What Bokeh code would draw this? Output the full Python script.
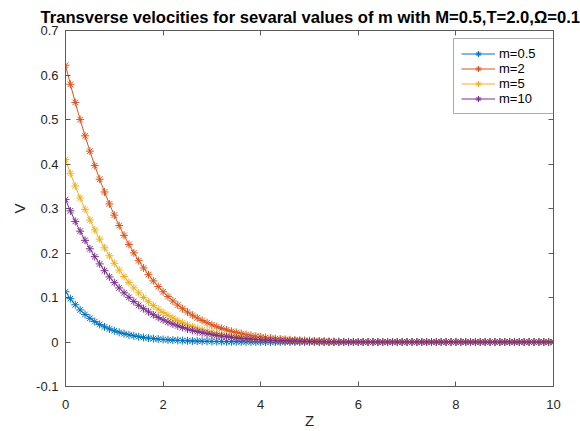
from bokeh.plotting import figure
from bokeh.models import LinearAxis, FixedTicker, Legend, LegendItem, Range1d
from bokeh.embed import file_html
from bokeh.resources import INLINE

# ---------------- data ----------------
Z = [0.0, 0.1, 0.2, 0.3, 0.4, 0.5, 0.6, 0.7, 0.8, 0.9,
     1.0, 1.1, 1.2, 1.3, 1.4, 1.5, 1.6, 1.7, 1.8, 1.9,
     2.0, 2.1, 2.2, 2.3, 2.4, 2.5, 2.6, 2.7, 2.8, 2.9,
     3.0, 3.1, 3.2, 3.3, 3.4, 3.5, 3.6, 3.7, 3.8, 3.9,
     4.0, 4.1, 4.2, 4.3, 4.4, 4.5, 4.6, 4.7, 4.8, 4.9,
     5.0, 5.1, 5.2, 5.3, 5.4, 5.5, 5.6, 5.7, 5.8, 5.9,
     6.0, 6.1, 6.2, 6.3, 6.4, 6.5, 6.6, 6.7, 6.8, 6.9,
     7.0, 7.1, 7.2, 7.3, 7.4, 7.5, 7.6, 7.7, 7.8, 7.9,
     8.0, 8.1, 8.2, 8.3, 8.4, 8.5, 8.6, 8.7, 8.8, 8.9,
     9.0, 9.1, 9.2, 9.3, 9.4, 9.5, 9.6, 9.7, 9.8, 9.9,
     10.0]

V_m05 = [0.1130, 0.0973, 0.0837, 0.0720, 0.0620, 0.0534, 0.0459, 0.0395, 0.0340, 0.0293,
         0.0252, 0.0217, 0.0187, 0.0161, 0.0138, 0.0119, 0.0103, 0.0088, 0.0076, 0.0065,
         0.0056, 0.0048, 0.0042, 0.0036, 0.0031, 0.0027, 0.0023, 0.0020, 0.0017, 0.0015,
         0.0013, 0.0011, 0.0009, 0.0008, 0.0007, 0.0006, 0.0005, 0.0004, 0.0003, 0.0002,
         0.0001, 0.0, 0.0, 0.0, 0.0, 0.0, 0.0, 0.0, 0.0, 0.0,
         0.0, 0.0, 0.0, 0.0, 0.0, 0.0, 0.0, 0.0, 0.0, 0.0,
         0.0, 0.0, 0.0, 0.0, 0.0, 0.0, 0.0, 0.0, 0.0, 0.0,
         0.0, 0.0, 0.0, 0.0, 0.0, 0.0, 0.0, 0.0, 0.0, 0.0,
         0.0, 0.0, 0.0, 0.0, 0.0, 0.0, 0.0, 0.0, 0.0, 0.0,
         0.0, 0.0, 0.0, 0.0, 0.0, 0.0, 0.0, 0.0, 0.0, 0.0,
         0.0]

V_m2 = [0.6220, 0.5791, 0.5384, 0.4998, 0.4633, 0.4289, 0.3964, 0.3658, 0.3371, 0.3102,
        0.2851, 0.2616, 0.2396, 0.2192, 0.2003, 0.1827, 0.1664, 0.1513, 0.1374, 0.1246,
        0.1129, 0.1020, 0.0921, 0.0831, 0.0748, 0.0672, 0.0603, 0.0541, 0.0484, 0.0433,
        0.0386, 0.0344, 0.0306, 0.0272, 0.0241, 0.0214, 0.0189, 0.0167, 0.0147, 0.0130,
        0.0114, 0.0100, 0.0088, 0.0077, 0.0067, 0.0059, 0.0051, 0.0045, 0.0039, 0.0034,
        0.0029, 0.0024, 0.0019, 0.0015, 0.0011, 0.0008, 0.0005, 0.0003, 0.0001, 0.0,
        0.0, 0.0, 0.0, 0.0, 0.0, 0.0, 0.0, 0.0, 0.0, 0.0,
        0.0, 0.0, 0.0, 0.0, 0.0, 0.0, 0.0, 0.0, 0.0, 0.0,
        0.0, 0.0, 0.0, 0.0, 0.0, 0.0, 0.0, 0.0, 0.0, 0.0,
        0.0, 0.0, 0.0, 0.0, 0.0, 0.0, 0.0, 0.0, 0.0, 0.0,
        0.0]

V_m5 = [0.4100, 0.3793, 0.3505, 0.3234, 0.2980, 0.2741, 0.2519, 0.2311, 0.2117, 0.1937,
        0.1770, 0.1615, 0.1471, 0.1339, 0.1216, 0.1104, 0.1000, 0.0905, 0.0817, 0.0737,
        0.0664, 0.0598, 0.0537, 0.0482, 0.0432, 0.0386, 0.0345, 0.0308, 0.0274, 0.0244,
        0.0217, 0.0192, 0.0170, 0.0151, 0.0133, 0.0117, 0.0104, 0.0091, 0.0080, 0.0070,
        0.0061, 0.0054, 0.0047, 0.0041, 0.0036, 0.0031, 0.0027, 0.0023, 0.0020, 0.0018,
        0.0015, 0.0012, 0.0009, 0.0007, 0.0005, 0.0003, 0.0001, 0.0, 0.0, 0.0,
        0.0, 0.0, 0.0, 0.0, 0.0, 0.0, 0.0, 0.0, 0.0, 0.0,
        0.0, 0.0, 0.0, 0.0, 0.0, 0.0, 0.0, 0.0, 0.0, 0.0,
        0.0, 0.0, 0.0, 0.0, 0.0, 0.0, 0.0, 0.0, 0.0, 0.0,
        0.0, 0.0, 0.0, 0.0, 0.0, 0.0, 0.0, 0.0, 0.0, 0.0,
        0.0]

V_m10 = [0.3200, 0.2946, 0.2710, 0.2490, 0.2285, 0.2095, 0.1918, 0.1755, 0.1603, 0.1463,
         0.1334, 0.1215, 0.1105, 0.1004, 0.0912, 0.0826, 0.0749, 0.0677, 0.0612, 0.0552,
         0.0498, 0.0449, 0.0404, 0.0363, 0.0326, 0.0292, 0.0262, 0.0234, 0.0209, 0.0187,
         0.0167, 0.0148, 0.0132, 0.0117, 0.0104, 0.0092, 0.0082, 0.0073, 0.0064, 0.0057,
         0.0050, 0.0044, 0.0039, 0.0034, 0.0030, 0.0026, 0.0023, 0.0020, 0.0018, 0.0015,
         0.0013, 0.0011, 0.0008, 0.0006, 0.0004, 0.0002, 0.0001, 0.0, 0.0, 0.0,
         0.0, 0.0, 0.0, 0.0, 0.0, 0.0, 0.0, 0.0, 0.0, 0.0,
         0.0, 0.0, 0.0, 0.0, 0.0, 0.0, 0.0, 0.0, 0.0, 0.0,
         0.0, 0.0, 0.0, 0.0, 0.0, 0.0, 0.0, 0.0, 0.0, 0.0,
         0.0, 0.0, 0.0, 0.0, 0.0, 0.0, 0.0, 0.0, 0.0, 0.0,
         0.0]

series_labels = ["m=0.5", "m=2", "m=5", "m=10"]
series_values = [V_m05, V_m2, V_m5, V_m10]
series_colors = ["#0072BD", "#D95319", "#EDB120", "#7E2F8E"]

x_ticks = [0, 2, 4, 6, 8, 10]
y_ticks = [-0.1, 0.0, 0.1, 0.2, 0.3, 0.4, 0.5, 0.6, 0.7]
y_tick_labels = ["-0.1", "0", "0.1", "0.2", "0.3", "0.4", "0.5", "0.6", "0.7"]

title_text = "Transverse velocities for sevaral values of m with M=0.5,T=2.0,\u03a9=0.1"
x_label = "Z"
y_label = "V"

# ---------------- figure ----------------
FONT = "Liberation Sans"
AX = "#262626"
BOX = "#5a5a5a"

p = figure(width=580, height=431, output_backend="svg", toolbar_location=None,
           x_range=Range1d(0, 10), y_range=Range1d(-0.1, 0.7),
           min_border_left=65, min_border_right=27, min_border_top=30, min_border_bottom=44,
           title=title_text)
p.background_fill_color = "white"
p.border_fill_color = "white"
p.outline_line_color = BOX
p.outline_line_width = 1
p.xgrid.visible = False
p.ygrid.visible = False

p.title.text_font = FONT
p.title.text_font_size = "16.6px"
p.title.text_font_style = "bold"
p.title.text_color = "black"
p.title.align = "left"
p.title.offset = -25
p.title.standoff = 8

def style_axis(ax, show_labels=True):
    ax.axis_line_color = BOX
    ax.axis_line_width = 1
    ax.major_tick_line_color = BOX
    ax.major_tick_in = 5
    ax.major_tick_out = 0
    ax.minor_tick_line_color = None
    ax.major_label_text_font = FONT
    ax.major_label_text_color = AX
    if show_labels:
        ax.major_label_text_font_size = "13px"
    else:
        ax.major_label_text_font_size = "1px"
        ax.major_label_text_color = None
        ax.major_label_standoff = 0

xa = p.xaxis[0]
ya = p.yaxis[0]
xa.ticker = FixedTicker(ticks=x_ticks)
ya.ticker = FixedTicker(ticks=y_ticks)
ya.major_label_overrides = {t: s for t, s in zip(y_ticks, y_tick_labels)}
style_axis(xa)
style_axis(ya)
xa.major_label_standoff = 13
ya.major_label_standoff = 7
xa.axis_label = x_label
ya.axis_label = y_label
for ax in (xa, ya):
    ax.axis_label_text_font = FONT
    ax.axis_label_text_font_size = "15px"
    ax.axis_label_text_font_style = "normal"
    ax.axis_label_text_color = AX
xa.axis_label_standoff = 0
ya.axis_label_standoff = 5

top_ax = LinearAxis(ticker=FixedTicker(ticks=x_ticks))
right_ax = LinearAxis(ticker=FixedTicker(ticks=y_ticks))
style_axis(top_ax, False)
style_axis(right_ax, False)
p.add_layout(top_ax, "above")
p.add_layout(right_ax, "right")

items = []
for lab, vals, col in zip(series_labels, series_values, series_colors):
    r_line = p.line(Z, vals, line_color=col, line_width=1)
    r_pts = p.scatter(Z, vals, marker="asterisk", size=8, line_color=col, line_width=1)
    items.append(LegendItem(label=lab, renderers=[r_line, r_pts]))

legend = Legend(items=items, location=(388, 272))
legend.border_line_color = BOX
legend.border_line_width = 1
legend.background_fill_color = "white"
legend.background_fill_alpha = 1.0
legend.label_text_font = FONT
legend.label_text_font_size = "13px"
legend.label_text_color = "black"
legend.glyph_width = 34
legend.glyph_height = 15
legend.label_height = 15
legend.label_width = 49
legend.label_standoff = 4
legend.spacing = 0
legend.padding = 7
legend.margin = 0
p.add_layout(legend)

open("out.html", "w").write(file_html(p, INLINE))
